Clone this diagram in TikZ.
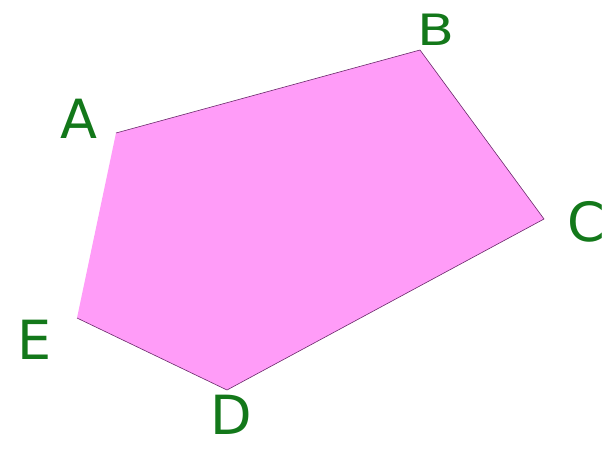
\documentclass[tikz,border=0pt]{standalone}
\usepackage{fontspec}
\setmainfont{DejaVu Sans}
\definecolor{pinkfill}{HTML}{FF9CF8}
\definecolor{lblgreen}{HTML}{13781A}
\definecolor{edgecol}{HTML}{6A2A6A}
\begin{document}
\begin{tikzpicture}[x=1pt,y=-1pt,
  lbl/.style={text=lblgreen,font=\fontsize{54}{54}\selectfont,inner sep=0pt,
    text height=39pt,text depth=0pt,anchor=center},
  edge/.style={draw=edgecol,line width=0.6pt}]
\useasboundingbox (0,0) rectangle (615,448);
\coordinate (A) at (116,133);
\coordinate (B) at (420,50);
\coordinate (C) at (544,219);
\coordinate (D) at (227,390);
\coordinate (E) at (77,318);
\fill[pinkfill] (A) -- (B) -- (C) -- (D) -- (E) -- cycle;
\draw[edge] (A) -- (B) -- (C) -- (D) -- (E);
\node[lbl] (lA) at (79,119) {A};
\node[lbl,yscale=0.8] (lB) at (436,30) {B};
\node[lbl] (lC) at (586,222) {C};
\node[lbl] (lD) at (231,415) {D};
\node[lbl] (lE) at (35,340) {E};
\end{tikzpicture}
\end{document}
